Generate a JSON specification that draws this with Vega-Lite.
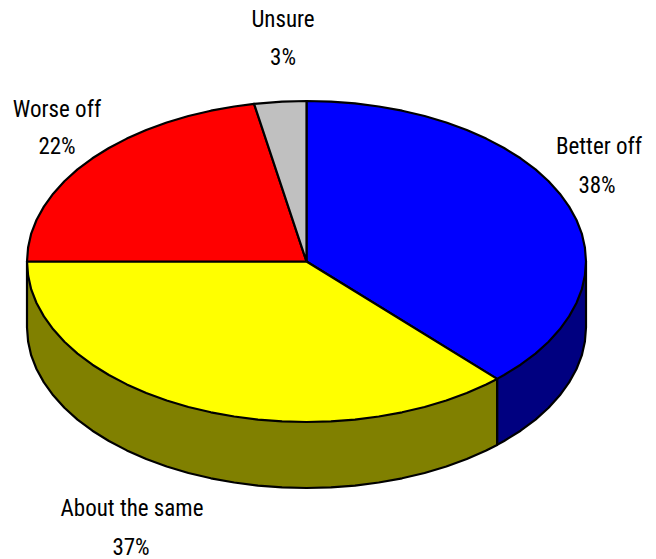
{"$schema":"https://vega.github.io/schema/vega-lite/v6.json","width":656,"height":559,"padding":0,"autosize":{"type":"none"},"background":"white","view":{"stroke":null},
"layer":[
{"data":{"values":[
{"part":"Better off side","i":0,"x":586,"y":261.5},{"part":"Better off side","i":1,"x":586,"y":327.5},{"part":"Better off side","i":2,"x":584.9,"y":341.5},{"part":"Better off side","i":3,"x":581.8,"y":355.4},{"part":"Better off side","i":4,"x":576.5,"y":369},{"part":"Better off side","i":5,"x":569.1,"y":382.4},{"part":"Better off side","i":6,"x":559.8,"y":395.3},{"part":"Better off side","i":7,"x":548.6,"y":407.8},{"part":"Better off side","i":8,"x":535.5,"y":419.6},{"part":"Better off side","i":9,"x":520.6,"y":430.7},{"part":"Better off side","i":10,"x":504.1,"y":441},{"part":"Better off side","i":11,"x":497.1,"y":444.9},{"part":"Better off side","i":12,"x":497.1,"y":378.9},{"part":"Better off side","i":13,"x":586,"y":261.5},
{"part":"About the same side","i":0,"x":497.1,"y":378.9},{"part":"About the same side","i":1,"x":497.1,"y":444.9},{"part":"About the same side","i":2,"x":486.2,"y":450.4},{"part":"About the same side","i":3,"x":466.8,"y":459},{"part":"About the same side","i":4,"x":446.3,"y":466.5},{"part":"About the same side","i":5,"x":424.6,"y":473},{"part":"About the same side","i":6,"x":402.1,"y":478.3},{"part":"About the same side","i":7,"x":378.8,"y":482.5},{"part":"About the same side","i":8,"x":355,"y":485.6},{"part":"About the same side","i":9,"x":330.9,"y":487.4},{"part":"About the same side","i":10,"x":306.5,"y":488},{"part":"About the same side","i":11,"x":282.1,"y":487.4},{"part":"About the same side","i":12,"x":258,"y":485.6},{"part":"About the same side","i":13,"x":234.2,"y":482.5},{"part":"About the same side","i":14,"x":210.9,"y":478.3},{"part":"About the same side","i":15,"x":188.4,"y":473},{"part":"About the same side","i":16,"x":166.7,"y":466.5},{"part":"About the same side","i":17,"x":146.2,"y":459},{"part":"About the same side","i":18,"x":126.8,"y":450.4},{"part":"About the same side","i":19,"x":108.9,"y":441},{"part":"About the same side","i":20,"x":92.4,"y":430.7},{"part":"About the same side","i":21,"x":77.5,"y":419.6},{"part":"About the same side","i":22,"x":64.4,"y":407.8},{"part":"About the same side","i":23,"x":53.2,"y":395.3},{"part":"About the same side","i":24,"x":43.9,"y":382.4},{"part":"About the same side","i":25,"x":36.5,"y":369},{"part":"About the same side","i":26,"x":31.2,"y":355.4},{"part":"About the same side","i":27,"x":28.1,"y":341.5},{"part":"About the same side","i":28,"x":27,"y":327.5},{"part":"About the same side","i":29,"x":27,"y":261.5},{"part":"About the same side","i":30,"x":497.1,"y":378.9},
{"part":"Better off","i":0,"x":306.5,"y":261.5},{"part":"Better off","i":1,"x":306.5,"y":101},{"part":"Better off","i":2,"x":330.9,"y":101.6},{"part":"Better off","i":3,"x":355,"y":103.4},{"part":"Better off","i":4,"x":378.8,"y":106.5},{"part":"Better off","i":5,"x":402.1,"y":110.7},{"part":"Better off","i":6,"x":424.6,"y":116},{"part":"Better off","i":7,"x":446.3,"y":122.5},{"part":"Better off","i":8,"x":466.8,"y":130},{"part":"Better off","i":9,"x":486.2,"y":138.6},{"part":"Better off","i":10,"x":504.1,"y":148},{"part":"Better off","i":11,"x":520.6,"y":158.3},{"part":"Better off","i":12,"x":535.5,"y":169.4},{"part":"Better off","i":13,"x":548.6,"y":181.2},{"part":"Better off","i":14,"x":559.8,"y":193.7},{"part":"Better off","i":15,"x":569.1,"y":206.6},{"part":"Better off","i":16,"x":576.5,"y":220},{"part":"Better off","i":17,"x":581.8,"y":233.6},{"part":"Better off","i":18,"x":584.9,"y":247.5},{"part":"Better off","i":19,"x":586,"y":261.5},{"part":"Better off","i":20,"x":584.9,"y":275.5},{"part":"Better off","i":21,"x":581.8,"y":289.4},{"part":"Better off","i":22,"x":576.5,"y":303},{"part":"Better off","i":23,"x":569.1,"y":316.4},{"part":"Better off","i":24,"x":559.8,"y":329.3},{"part":"Better off","i":25,"x":548.6,"y":341.8},{"part":"Better off","i":26,"x":535.5,"y":353.6},{"part":"Better off","i":27,"x":520.6,"y":364.7},{"part":"Better off","i":28,"x":504.1,"y":375},{"part":"Better off","i":29,"x":497.1,"y":378.9},{"part":"Better off","i":30,"x":306.5,"y":261.5},
{"part":"About the same","i":0,"x":306.5,"y":261.5},{"part":"About the same","i":1,"x":497.1,"y":378.9},{"part":"About the same","i":2,"x":486.2,"y":384.4},{"part":"About the same","i":3,"x":466.8,"y":393},{"part":"About the same","i":4,"x":446.3,"y":400.5},{"part":"About the same","i":5,"x":424.6,"y":407},{"part":"About the same","i":6,"x":402.1,"y":412.3},{"part":"About the same","i":7,"x":378.8,"y":416.5},{"part":"About the same","i":8,"x":355,"y":419.6},{"part":"About the same","i":9,"x":330.9,"y":421.4},{"part":"About the same","i":10,"x":306.5,"y":422},{"part":"About the same","i":11,"x":282.1,"y":421.4},{"part":"About the same","i":12,"x":258,"y":419.6},{"part":"About the same","i":13,"x":234.2,"y":416.5},{"part":"About the same","i":14,"x":210.9,"y":412.3},{"part":"About the same","i":15,"x":188.4,"y":407},{"part":"About the same","i":16,"x":166.7,"y":400.5},{"part":"About the same","i":17,"x":146.2,"y":393},{"part":"About the same","i":18,"x":126.8,"y":384.4},{"part":"About the same","i":19,"x":108.9,"y":375},{"part":"About the same","i":20,"x":92.4,"y":364.7},{"part":"About the same","i":21,"x":77.5,"y":353.6},{"part":"About the same","i":22,"x":64.4,"y":341.8},{"part":"About the same","i":23,"x":53.2,"y":329.3},{"part":"About the same","i":24,"x":43.9,"y":316.4},{"part":"About the same","i":25,"x":36.5,"y":303},{"part":"About the same","i":26,"x":31.2,"y":289.4},{"part":"About the same","i":27,"x":28.1,"y":275.5},{"part":"About the same","i":28,"x":27,"y":261.5},{"part":"About the same","i":29,"x":306.5,"y":261.5},
{"part":"Worse off","i":0,"x":306.5,"y":261.5},{"part":"Worse off","i":1,"x":27,"y":261.5},{"part":"Worse off","i":2,"x":28.1,"y":247.5},{"part":"Worse off","i":3,"x":31.2,"y":233.6},{"part":"Worse off","i":4,"x":36.5,"y":220},{"part":"Worse off","i":5,"x":43.9,"y":206.6},{"part":"Worse off","i":6,"x":53.2,"y":193.7},{"part":"Worse off","i":7,"x":64.4,"y":181.2},{"part":"Worse off","i":8,"x":77.5,"y":169.4},{"part":"Worse off","i":9,"x":92.4,"y":158.3},{"part":"Worse off","i":10,"x":108.9,"y":148},{"part":"Worse off","i":11,"x":126.8,"y":138.6},{"part":"Worse off","i":12,"x":146.2,"y":130},{"part":"Worse off","i":13,"x":166.7,"y":122.5},{"part":"Worse off","i":14,"x":188.4,"y":116},{"part":"Worse off","i":15,"x":210.9,"y":110.7},{"part":"Worse off","i":16,"x":234.2,"y":106.5},{"part":"Worse off","i":17,"x":254.1,"y":103.8},{"part":"Worse off","i":18,"x":306.5,"y":261.5},
{"part":"Unsure","i":0,"x":306.5,"y":261.5},{"part":"Unsure","i":1,"x":254.1,"y":103.8},{"part":"Unsure","i":2,"x":282.1,"y":101.6},{"part":"Unsure","i":3,"x":306.5,"y":101},{"part":"Unsure","i":4,"x":306.5,"y":261.5}
]},
"mark":{"type":"line","stroke":"black","strokeWidth":2.2,"strokeJoin":"round","clip":false},
"encoding":{
"x":{"field":"x","type":"quantitative","axis":null,"scale":{"domain":[0,656],"nice":false,"zero":false}},
"y":{"field":"y","type":"quantitative","axis":null,"scale":{"domain":[0,559],"reverse":true,"nice":false,"zero":false}},
"detail":{"field":"part"},
"order":{"field":"i","type":"quantitative"},
"fill":{"field":"part","type":"nominal","legend":null,"sort":null,"scale":{"domain":["Better off side","About the same side","Better off","About the same","Worse off","Unsure"],"range":["#000080","#808000","#0000ff","#ffff00","#ff0000","#c0c0c0"]}}
}},
{"data":{"values":[
{"text":"Better off","x":599,"y":147},{"text":"38%","x":597,"y":186},
{"text":"Worse off","x":57,"y":110},{"text":"22%","x":57,"y":147},
{"text":"Unsure","x":283,"y":20},{"text":"3%","x":283,"y":58},
{"text":"About the same","x":132,"y":509},{"text":"37%","x":131,"y":548}
]},
"mark":{"type":"text","font":"Roboto Condensed","fontSize":23,"color":"black","align":"center","baseline":"middle"},
"encoding":{
"x":{"field":"x","type":"quantitative","axis":null,"scale":{"domain":[0,656],"nice":false,"zero":false}},
"y":{"field":"y","type":"quantitative","axis":null,"scale":{"domain":[0,559],"reverse":true,"nice":false,"zero":false}},
"text":{"field":"text"}
}}
]}
